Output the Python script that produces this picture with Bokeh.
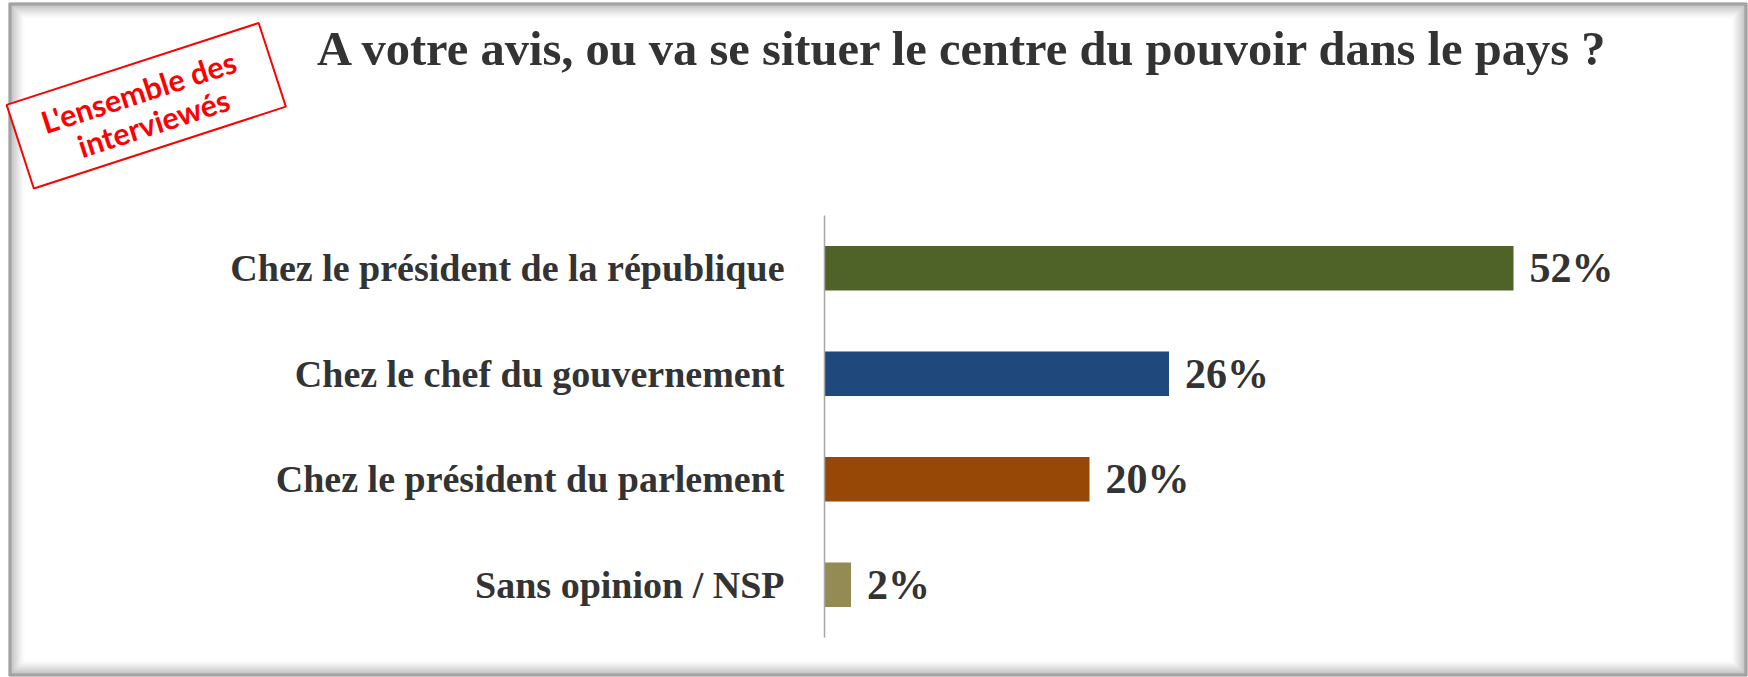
import math
from bokeh.plotting import figure
from bokeh.models import Range1d, ColumnDataSource
from bokeh.core.properties import value
from bokeh.embed import file_html
from bokeh.resources import INLINE

# ---------------- data ----------------
categories = ["Chez le président de la république",
              "Chez le chef du gouvernement",
              "Chez le président du parlement",
              "Sans opinion / NSP"]
values = [52, 26, 20, 2]
bar_colors = ["#4F6228", "#1F497D", "#974806", "#948A54"]
value_labels = [f"{v}%" for v in values]
title_text = "A votre avis, ou va se situer  le centre du pouvoir dans le pays ?"
stamp_lines = ["L'ensemble des", "interviewés"]

# ---------------- layout (pixels) ----------------
W, H = 1748, 677
AX_PX = 824          # pixel x of the value axis (0 %)
PX_PER_PCT = 13.25   # pixels per percentage point
TOP_PX, BOT_PX = 215, 637
n = len(categories)
band = (BOT_PX - TOP_PX) / n


def X(px):
    return (px - AX_PX) / PX_PER_PCT


def Y(py):
    return (BOT_PX - py) / band


pos = [n - 1 - i + 0.5 for i in range(n)]   # category centres, top to bottom

p = figure(width=W, height=H, output_backend="svg", toolbar_location=None,
           x_range=Range1d(X(0), X(W)), y_range=Range1d(Y(H), Y(0)),
           x_axis_location=None, y_axis_location=None, min_border=0)
p.outline_line_color = None
p.grid.grid_line_color = None
p.background_fill_color = "white"
p.border_fill_color = "white"

SERIF = value("Liberation Serif")

# ---------------- outer frame with inner shadow ----------------
ring_l, ring_r, ring_t, ring_b, ring_c, ring_a = [], [], [], [], [], []
for i in range(17):
    if i < 3:
        c, a = "#858585", 1.0
    else:
        c, a = "#808080", 0.5 * (1 - (i - 3) / 14.0) ** 1.5
    ring_l.append(X(8.5 + i)); ring_r.append(X(1746.5 - i))
    ring_t.append(Y(2.5 + i)); ring_b.append(Y(675.5 - i))
    ring_c.append(c); ring_a.append(a)
p.quad(left=ring_l, right=ring_r, top=ring_t, bottom=ring_b, fill_color=None,
       line_color=ring_c, line_alpha=ring_a, line_width=1)

# ---------------- bars ----------------
src = ColumnDataSource(dict(cat=categories, pos=pos, val=values,
                            color=bar_colors, lbl=value_labels))
p.hbar(y="pos", left=0, right="val", height=0.42, fill_color="color",
       line_color=None, source=src)

# value axis line
p.segment(x0=[0], y0=[0], x1=[0], y1=[n], line_color="#A6A6A6", line_width=1.5)

# category labels
p.text(x=0, y="pos", text="cat", x_offset=-40, text_align="right",
       text_baseline="middle", text_font=SERIF, text_font_style="bold",
       text_font_size="38px", text_color="#333333", source=src)

# value labels
p.text(x="val", y="pos", text="lbl", x_offset=16, text_align="left",
       text_baseline="middle", text_font=SERIF, text_font_style="bold",
       text_font_size="42px", text_color="#333333", source=src)

# ---------------- title ----------------
p.text(x=[X(969)], y=[Y(48)], text=[title_text], text_align="center",
       text_baseline="middle", text_font=SERIF, text_font_style="bold",
       text_font_size="48.5px", text_color="#333333")

# ---------------- stamp ----------------
cx, cy, bw, bh, ang = 145.75, 105.25, 265, 88, 18.0
t = math.radians(ang)
ux, uy = math.cos(t), -math.sin(t)
vx, vy = math.sin(t), math.cos(t)
corners = [(cx + a_ * bw / 2 * ux + b_ * bh / 2 * vx,
            cy + a_ * bw / 2 * uy + b_ * bh / 2 * vy)
           for a_, b_ in [(-1, -1), (1, -1), (1, 1), (-1, 1)]]
p.patch(x=[X(c[0]) for c in corners], y=[Y(c[1]) for c in corners],
        fill_color="white", line_color="#FF0000", line_width=2)
p.text(x=[X(138), X(153)], y=[Y(91), Y(122)], text=stamp_lines, angle=t,
       text_align="center", text_baseline="middle", text_font=value("Lato"),
       text_font_style="bold", text_font_size="30.5px", text_color="#FF0000")

open("out.html", "w").write(file_html(p, INLINE))
